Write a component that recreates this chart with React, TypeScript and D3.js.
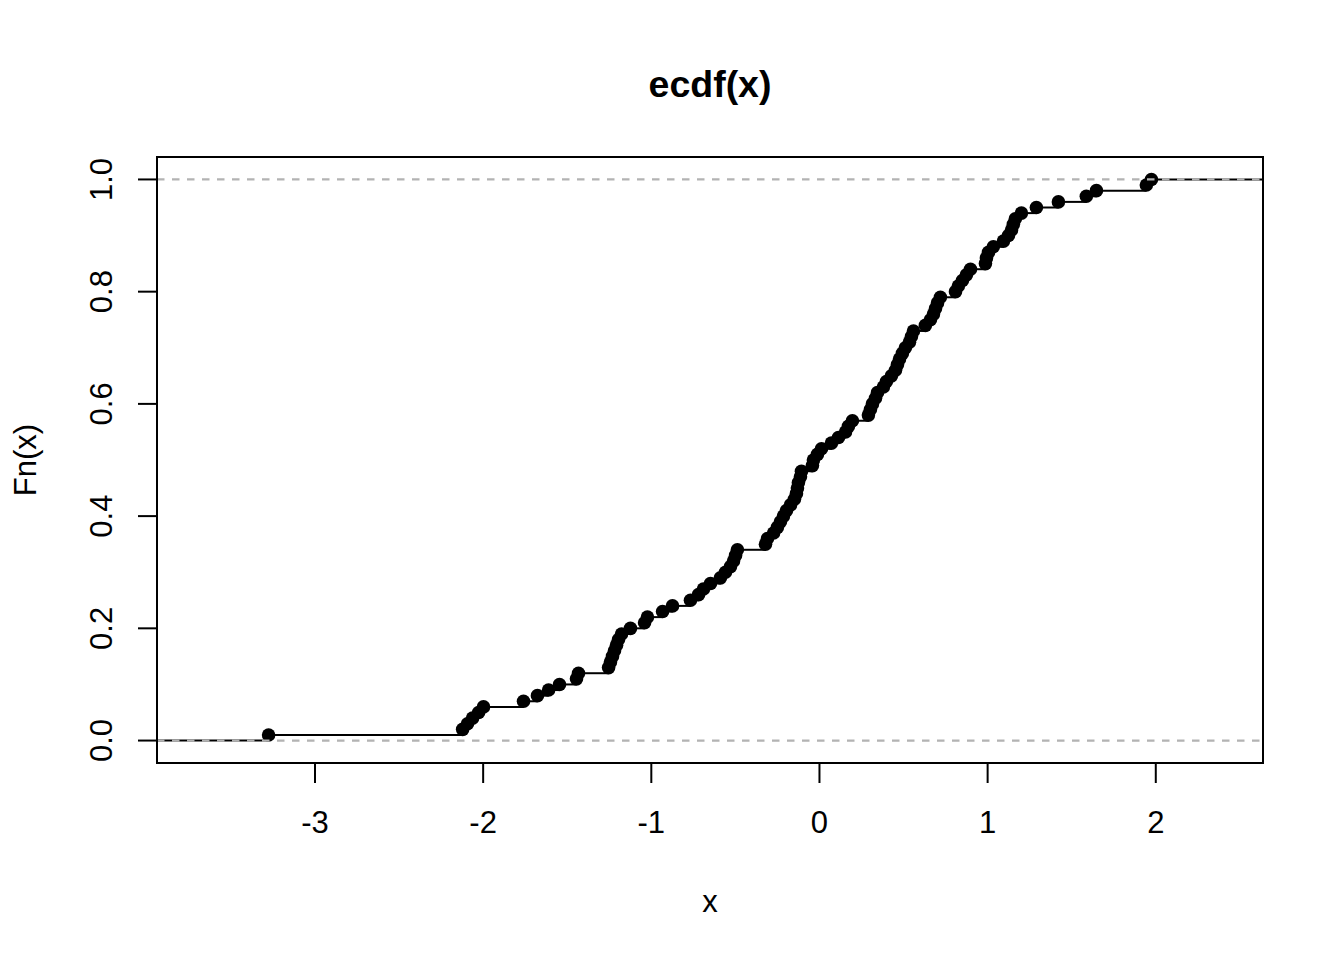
import React from "react";
import * as d3 from "d3";

// ECDF sample values, sorted
const xValues: number[] = [
  -3.276, -2.122, -2.093, -2.063, -2.027, -1.998, -1.760, -1.677, -1.611, -1.546,
  -1.445, -1.433, -1.254, -1.243, -1.231, -1.219, -1.207, -1.195, -1.177, -1.124,
  -1.040, -1.023, -0.933, -0.874, -0.767, -0.719, -0.690, -0.648, -0.589, -0.559,
  -0.529, -0.511, -0.499, -0.488, -0.321, -0.309, -0.273, -0.250, -0.232, -0.214,
  -0.196, -0.172, -0.149, -0.137, -0.131, -0.125, -0.113, -0.107, -0.042, -0.036,
  -0.012, 0.012, 0.071, 0.113, 0.155, 0.172, 0.196, 0.291, 0.303, 0.315,
  0.333, 0.345, 0.380, 0.398, 0.428, 0.452, 0.464, 0.476, 0.493, 0.511,
  0.535, 0.547, 0.559, 0.630, 0.660, 0.678, 0.690, 0.702, 0.719, 0.809,
  0.826, 0.850, 0.874, 0.898, 0.987, 0.993, 1.005, 1.034, 1.094, 1.124,
  1.142, 1.153, 1.165, 1.201, 1.290, 1.421, 1.587, 1.647, 1.944, 1.974,
];

const xTicks: number[] = [-3, -2, -1, 0, 1, 2];
const yTicks: number[] = [0, 0.2, 0.4, 0.6, 0.8, 1.0];
const titleText = "ecdf(x)";
const xLabel = "x";
const yLabel = "Fn(x)";

const W = 1344;
const H = 960;
const plotL = 157;
const plotR = 1263;
const plotT = 157;
const plotB = 763;
const FONT = "'Liberation Sans', Arial, sans-serif";

export default function App() {
  const knots = [...xValues].sort((a, b) => a - b);
  const n = knots.length;
  const lo = knots[0];
  const hi = knots[n - 1];
  const dr = Math.max(0.08 * (hi - lo), d3.median(d3.pairs(knots).map(([a, b]) => b - a)) || 0);
  const xlim: [number, number] = [lo - dr, hi + dr];
  const ext = 0.04 * (xlim[1] - xlim[0]);
  const x = d3.scaleLinear().domain([xlim[0] - ext, xlim[1] + ext]).range([plotL, plotR]);
  const y = d3.scaleLinear().domain([-0.04, 1.04]).range([plotB, plotT]);

  const ti = [xlim[0] - dr, ...knots, xlim[1] + dr];
  const segs = d3.range(n + 1).map((i) => ({ x0: ti[i], x1: ti[i + 1], yv: i / n }));

  return (
    <svg width={W} height={H} style={{ display: "block", position: "absolute", left: 0, top: 0, background: "#fff" }}>
      <defs>
        <clipPath id="plotClip">
          <rect x={plotL} y={plotT} width={plotR - plotL} height={plotB - plotT} />
        </clipPath>
      </defs>
      <rect x={0} y={0} width={W} height={H} fill="#fff" />
      <g clipPath="url(#plotClip)">
        {segs.map((s, i) => (
          <line key={"s" + i} x1={x(s.x0)} x2={x(s.x1)} y1={y(s.yv)} y2={y(s.yv)} stroke="#000" strokeWidth={2} />
        ))}
        {knots.map((v, i) => (
          <circle key={"p" + i} cx={x(v)} cy={y((i + 1) / n)} r={6.8} fill="#000" />
        ))}
        {[0, 1].map((h) => (
          <line key={"h" + h} x1={plotL} x2={plotR} y1={y(h)} y2={y(h)} stroke="#b3b3b3" strokeWidth={2.2} strokeDasharray="7.5 7.5" />
        ))}
      </g>
      <rect x={plotL} y={plotT} width={plotR - plotL} height={plotB - plotT} fill="none" stroke="#000" strokeWidth={2} />
      {xTicks.map((t) => (
        <g key={"xt" + t}>
          <line x1={x(t)} x2={x(t)} y1={plotB} y2={plotB + 20} stroke="#000" strokeWidth={2} />
          <text x={x(t)} y={833} textAnchor="middle" fontFamily={FONT} fontSize={31} fill="#000">
            {t}
          </text>
        </g>
      ))}
      {yTicks.map((t) => (
        <g key={"yt" + t}>
          <line x1={plotL - 19} x2={plotL} y1={y(t)} y2={y(t)} stroke="#000" strokeWidth={2} />
          <text
            transform={`translate(112,${y(t)}) rotate(-90)`}
            textAnchor="middle"
            fontFamily={FONT}
            fontSize={31}
            fill="#000"
          >
            {d3.format(".1f")(t)}
          </text>
        </g>
      ))}
      <text x={(plotL + plotR) / 2} y={96.5} textAnchor="middle" fontFamily={FONT} fontSize={37.5} fontWeight="bold" fill="#000">
        {titleText}
      </text>
      <text x={(plotL + plotR) / 2} y={912} textAnchor="middle" fontFamily={FONT} fontSize={31} fill="#000">
        {xLabel}
      </text>
      <text
        transform={`translate(36,${(plotT + plotB) / 2}) rotate(-90)`}
        textAnchor="middle"
        fontFamily={FONT}
        fontSize={31}
        fill="#000"
      >
        {yLabel}
      </text>
    </svg>
  );
}
